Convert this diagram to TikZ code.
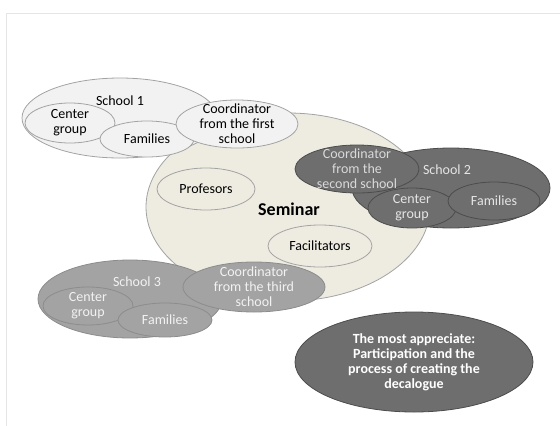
\documentclass[tikz,border=0pt]{standalone}
\usepackage{fontspec}
\setmainfont{Carlito}
\usetikzlibrary{shapes.geometric}
\definecolor{lightfill}{HTML}{F2F2F2}
\definecolor{beige}{HTML}{EEECE1}
\definecolor{darkfill}{HTML}{6E6E6E}
\definecolor{midfill}{HTML}{A3A3A3}
\definecolor{rimgrey}{HTML}{8C8C8C}
\tikzstyle{blob}=[ellipse,inner sep=0pt,line width=0.8pt]
\tikzstyle{lightblob}=[blob,draw=rimgrey!80,fill=lightfill]
\tikzstyle{semblob}=[blob,draw=rimgrey!80,fill=beige]
\tikzstyle{darkblob}=[blob,draw=black!70,fill=darkfill]
\tikzstyle{midblob}=[blob,draw=rimgrey,fill=midfill]
\tikzstyle{txt}=[align=center,font=\fontsize{14}{15}\selectfont,inner sep=0pt]
\tikzset{size/.style 2 args={minimum width=#1pt,minimum height=#2pt}}

\begin{document}
\begin{tikzpicture}[x=1pt,y=-1pt]
  \useasboundingbox (0,0) rectangle (560,426);
  \draw[black!10,line width=0.8pt] (560,13) -- (6,13) -- (6,426);
  % seminar
  \node(sem)[semblob,size={284}{188}] at (288,207) {};
  \node(prof)[semblob,size={98}{42}] at (206,189) {};
  \node[txt] at (prof) {Profesors};
  \node(fac)[semblob,size={104}{42}] at (320,246) {};
  \node[txt] at (fac) {Facilitators};
  \node(semtxt)[txt,font=\fontsize{18}{20}\selectfont\bfseries] at (289,209) {Seminar};
  % school 1
  \node(s1)[lightblob,size={196}{80}] at (120,118) {};
  \node[txt] at (120,101) {School 1};
  \node(cg1)[lightblob,size={90}{40}] at (70,123) {};
  \node[txt] at (cg1) {Center\\group};
  \node(fam1)[lightblob,size={94}{36}] at (147,139) {};
  \node[txt] at (fam1) {Families};
  \node(co1)[lightblob,size={122}{48}] at (237,124) {};
  \node[txt] at (co1) {Coordinator\\from the first\\school};
  % school 2
  \node(s2)[darkblob,size={198}{80}] at (451,188) {};
  \node[txt,text=black!10] at (447,170) {School 2};
  \node(co2)[darkblob,size={124}{48}] at (357,169) {};
  \node[txt,text=black!15] at (co2) {Coordinator\\from the\\second school};
  \node(cg2)[darkblob,size={88}{40}] at (412,208) {};
  \node[txt,text=black!10] at (cg2) {Center\\group};
  \node(fam2)[darkblob,size={92}{38}] at (494,201) {};
  \node[txt,text=black!10] at (fam2) {Families};
  % school 3
  \node(s3)[midblob,size={184}{78}] at (130,299) {};
  \node[txt,text=black!5] at (137,282) {School 3};
  \node(cg3)[midblob,size={90}{38}] at (88,306) {};
  \node[txt,text=black!5] at (cg3) {Center\\group};
  \node(fam3)[midblob,size={94}{34}] at (165,320) {};
  \node[txt,text=black!5] at (fam3) {Families};
  \node(co3)[midblob,size={142}{50}] at (254,287) {};
  \node[txt,text=black!5] at (co3) {Coordinator\\from the third\\school};
  % result
  \node(best)[darkblob,size={238}{100}] at (414,362) {};
  \node[txt,text=white,font=\fontsize{14}{15}\selectfont\bfseries] at (best) {The most appreciate:\\Participation and the\\process of creating the\\decalogue};
\end{tikzpicture}
\end{document}
